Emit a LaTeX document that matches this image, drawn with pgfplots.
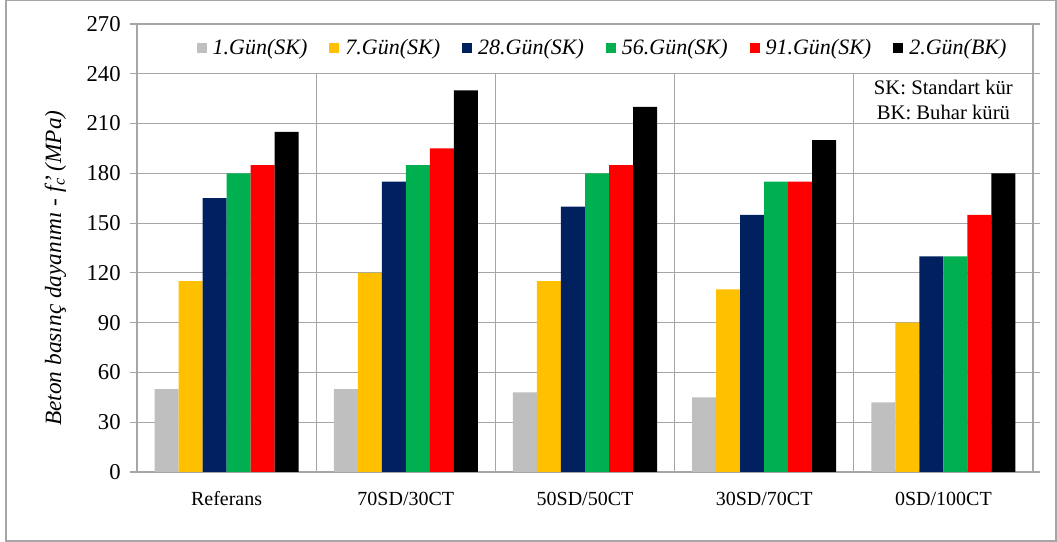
\documentclass[border=0pt]{standalone}
\usepackage{pgfplots}
\pgfplotsset{compat=1.18}
\usepackage{fontspec}
\setmainfont{Liberation Serif}
\definecolor{cGray}{HTML}{BFBFBF}
\definecolor{cYel}{HTML}{FFC000}
\definecolor{cNavy}{HTML}{002060}
\definecolor{cGreen}{HTML}{00B050}
\definecolor{cRed}{HTML}{FF0000}
\definecolor{cLine}{HTML}{A6A6A6}
\begin{document}
\begin{tikzpicture}
\useasboundingbox (-102.75pt,-52.5pt) rectangle (690pt,354pt);
\draw[color=cLine, line width=1.2pt] (-98.25pt,-51.75pt) rectangle (689.25pt,353.6pt);
\begin{axis}[
  at={(0pt,0pt)}, anchor=south west,
  width=672pt, height=336pt, scale only axis,
  ybar, bar width=0.134,
  xmin=-0.5, xmax=4.5, ymin=0, ymax=270,
  ytick={0,30,...,270},
  xtick={0,1,2,3,4},
  xticklabels={Referans,70SD/30CT,50SD/50CT,30SD/70CT,0SD/100CT},
  x tick style={draw=none},
  tick align=outside,
  major tick length=5.25pt,
  y tick style={color=cLine, line width=0.8pt},
  ymajorgrids,
  grid style={color=cLine, line width=0.8pt},
  axis line style={color=cLine, line width=0.8pt},
  xticklabel style={font=\fontsize{15}{18}\selectfont, yshift=-6pt},
  yticklabel style={font=\fontsize{17}{20}\selectfont, xshift=-3.5pt},
  /pgf/number format/assume math mode=true,
  ylabel={\textit{Beton basınç dayanımı - f\rlap{\kern0.12em'}\textsubscript{\kern0.05em c} (MPa)}},
  ylabel style={font=\fontsize{17.5}{20}\selectfont, at={(axis description cs:-0.091,0.455)}, anchor=center},
  legend columns=6,
  legend style={draw=none, fill=white, at={(axis description cs:0.52,0.946)}, anchor=center,
    font=\fontsize{16.5}{19}\selectfont\itshape,
    /tikz/every even column/.append style={column sep=14.5pt}},
  legend image code/.code={\draw[#1, draw=none] (0pt,-3.75pt) rectangle (7.5pt,3.75pt); \path (10pt,0pt);},
]
\pgfplotsinvokeforeach{0.5,1.5,2.5,3.5}{\draw[cLine, line width=0.8pt] (axis cs:#1,0) -- (axis cs:#1,240);}
\addplot[fill=cGray, draw=none, bar shift=-0.335] coordinates {(0,50) (1,50) (2,48) (3,45) (4,42)};
\addplot[fill=cYel, draw=none, bar shift=-0.201] coordinates {(0,115) (1,120) (2,115) (3,110) (4,90)};
\addplot[fill=cNavy, draw=none, bar shift=-0.067] coordinates {(0,165) (1,175) (2,160) (3,155) (4,130)};
\addplot[fill=cGreen, draw=none, bar shift=0.067] coordinates {(0,180) (1,185) (2,180) (3,175) (4,130)};
\addplot[fill=cRed, draw=none, bar shift=0.201] coordinates {(0,185) (1,195) (2,185) (3,175) (4,155)};
\addplot[fill=black, draw=none, bar shift=0.335] coordinates {(0,205) (1,230) (2,220) (3,200) (4,180)};
\legend{1.Gün(SK),7.Gün(SK),28.Gün(SK),56.Gün(SK),91.Gün(SK),2.Gün(BK)}
\node[align=center, font=\fontsize{15.5}{19}\selectfont] at (axis description cs:0.9,0.83) {SK: Standart kür\\BK: Buhar kürü};
\end{axis}
\end{tikzpicture}
\end{document}
